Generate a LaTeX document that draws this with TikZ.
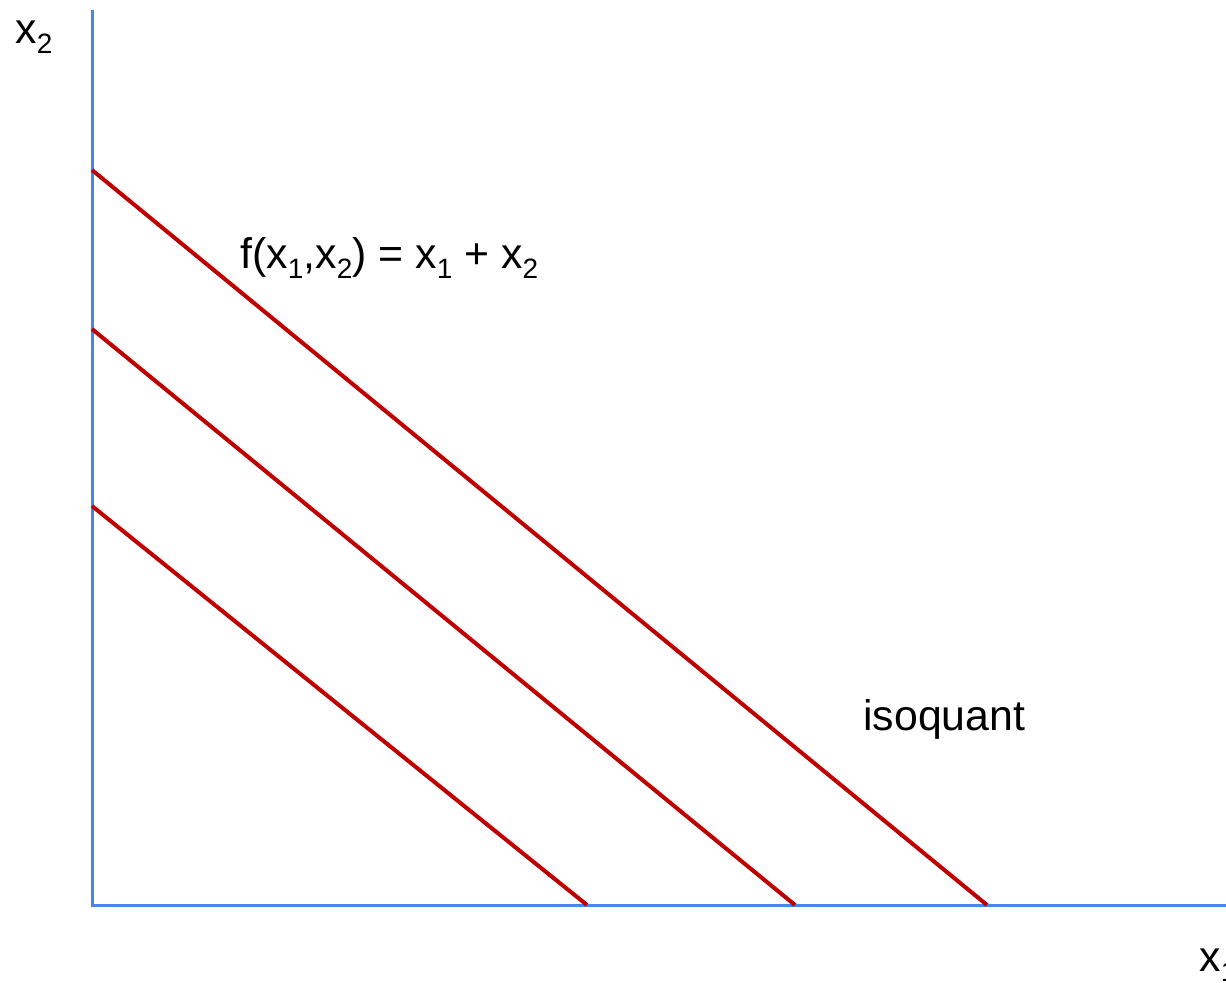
\documentclass[tikz,border=0pt]{standalone}
\usepackage{fontspec}
\setmainfont{Liberation Sans}
\definecolor{axisblue}{RGB}{74,134,232}
\definecolor{isored}{RGB}{192,0,0}
\usetikzlibrary{positioning}
\newcommand{\lowidx}[1]{\raisebox{-5pt}{\fontsize{14}{14}\selectfont #1}}

\begin{document}
\begin{tikzpicture}[x=0.5pt, y=-0.5pt,
    axis/.style={axisblue, line width=1.5pt},
    isoline/.style={isored, line width=2pt},
    lbl/.style={inner sep=0pt, anchor=base west, font=\fontsize{21.4}{25}\selectfont},
  ]
    \useasboundingbox (0,0) rectangle (1226,982);
    % axes
    \coordinate (origin) at (92,905);
    \coordinate (ytop) at (92,10);
    \coordinate (xend) at (1240,905);
    \draw[axis] (ytop) -- (origin) -- (xend);
    % isoquants
    \coordinate (a1) at (92,506);
    \coordinate (b1) at (587,905);
    \coordinate (a2) at (92,329);
    \coordinate (b2) at (795,905);
    \coordinate (a3) at (92,170);
    \coordinate (b3) at (987,905);
    \draw[isoline] (a1) -- (b1);
    \draw[isoline] (a2) -- (b2);
    \draw[isoline] (a3) -- (b3);
    % labels
    \node[lbl] (ylabel) at (15,43) {x\lowidx{2}};
    \node[lbl] (xlabel) at (1199,971) {x\lowidx{1}};
    \node[lbl] (flabel) at (240,268) {f(x\lowidx{1},x\lowidx{2}) = x\lowidx{1} + x\lowidx{2}};
    \node[lbl] (isolabel) at (863,730) {isoquant};
\end{tikzpicture}
\end{document}
